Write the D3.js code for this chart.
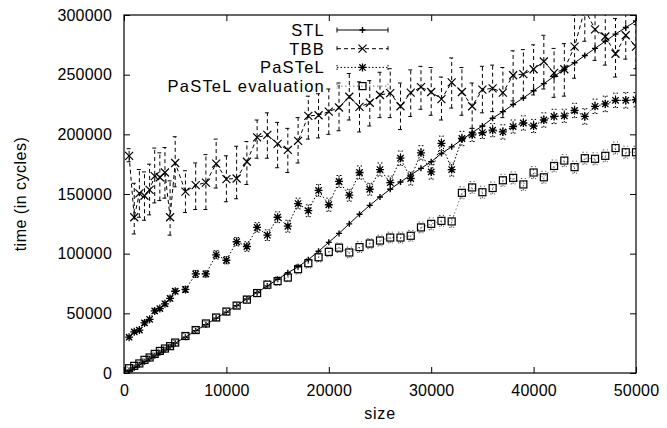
<!DOCTYPE html>
<html>
<head>
<meta charset="utf-8">
<script src="https://cdn.jsdelivr.net/npm/d3@7"></script>
<style>
  body { margin: 0; background: #fff; }
  text { font-family: "Liberation Sans", Arial, Helvetica, sans-serif; fill: #000; }
</style>
</head>
<body>
<svg id="chart" width="667" height="428"></svg>
<script>
// problem sizes (x)
const sizes = [500, 1000, 1500, 2000, 2500, 3000, 3500, 4000, 4500, 5000,
  6000, 7000, 8000, 9000, 10000, 11000, 12000, 13000, 14000, 15000,
  16000, 17000, 18000, 19000, 20000, 21000, 22000, 23000, 24000, 25000,
  26000, 27000, 28000, 29000, 30000, 31000, 32000, 33000, 34000, 35000,
  36000, 37000, 38000, 39000, 40000, 41000, 42000, 43000, 44000, 45000,
  46000, 47000, 48000, 49000, 50000];

const stl = [2000, 4500, 7000, 9500, 12000, 14500, 17000, 19500, 22000, 25000,
  30000, 35500, 40500, 46000, 51000, 56500, 62000, 67500, 73000, 78500,
  84000, 89000, 95000, 102000, 109500, 117000, 125000, 133000, 140500, 147500,
  154000, 160000, 166000, 171500, 177000, 184000, 189500, 195500, 201500, 207000,
  213500, 219000, 225000, 230500, 236500, 242500, 248500, 254500, 260000, 266000,
  272000, 278000, 284000, 289500, 295000];

const tbb = [182000, 130500, 150500, 148500, 153500, 165000, 164000, 168000, 130500, 176000,
  152000, 157500, 159500, 175500, 162500, 163000, 177000, 197500, 199500, 192000,
  187000, 194500, 215500, 216000, 219000, 222500, 231500, 223000, 226500, 233000,
  234500, 223500, 235000, 239500, 235500, 229500, 243500, 235500, 223500, 237500,
  238500, 235000, 249500, 250500, 254500, 261000, 251500, 254500, 273500, 305000,
  288000, 282000, 267500, 283000, 273500];
const tbbLow = [177000, 116500, 130500, 128000, 132500, 142500, 144500, 146500, 115500, 156000,
  134500, 137000, 137000, 155000, 143500, 146000, 158000, 180000, 180000, 172000,
  168000, 176000, 196000, 197000, 200000, 203000, 212000, 202000, 207000, 214000,
  214000, 204000, 215000, 221000, 216000, 212000, 222000, 216000, 205000, 218000,
  219000, 214000, 228000, 230000, 233000, 238000, 231000, 232000, 247000, 278000,
  262000, 258000, 248000, 263000, 255000];
const tbbHigh = [188000, 159000, 170500, 168500, 175000, 188500, 184500, 189000, 161000, 198000,
  169500, 176000, 183000, 196000, 182000, 190000, 194000, 212000, 218000, 210000,
  205000, 214000, 232000, 234000, 238000, 243000, 251000, 244000, 245000, 252000,
  255000, 243000, 254000, 257000, 256000, 248000, 264000, 256000, 243000, 257000,
  258000, 256000, 270000, 271000, 275000, 283000, 272000, 276000, 300000, 330000,
  312000, 305000, 297000, 304000, 292000];

const pastel = [30000, 34500, 36000, 42000, 45000, 52000, 54000, 58000, 62500, 68500,
  70000, 83000, 83000, 99000, 94500, 110000, 106000, 122000, 115500, 130500,
  123000, 142000, 136000, 153000, 141000, 160500, 149000, 168000, 154000, 170500,
  159500, 180000, 163000, 184500, 168500, 192500, 170500, 196500, 199500, 201500,
  203500, 202000, 206500, 209500, 207000, 212000, 215000, 215500, 220000, 215000,
  223500, 225500, 228500, 228500, 229000];
const pastelErr = [1500, 1500, 1500, 2000, 1500, 2000, 1500, 2000, 2000, 2000,
  2500, 3000, 2500, 3500, 3000, 3500, 4000, 4000, 4500, 4500,
  5000, 4500, 5000, 5000, 5500, 5000, 5000, 5500, 5000, 5500,
  5500, 6000, 5500, 6000, 6000, 6000, 5500, 6000, 5500, 5000,
  5500, 6000, 5500, 6000, 5500, 6000, 6000, 5500, 6000, 6500,
  6000, 6500, 6000, 6500, 6000];

const pastelEval = [4000, 6000, 8000, 11000, 13000, 16000, 18500, 20500, 22500, 25500,
  31000, 36000, 41500, 46500, 51500, 56500, 61500, 67000, 74000, 77000,
  80000, 87000, 92000, 97000, 101500, 105000, 101000, 105500, 108500, 111000,
  113500, 113500, 115000, 122000, 125000, 127500, 127000, 151000, 155500, 151500,
  155000, 161500, 163500, 158000, 168000, 164000, 173500, 178000, 172500, 180000,
  179500, 182000, 188500, 185000, 185000];
const evalErr = [1000, 1000, 1000, 1000, 1500, 1500, 1500, 1500, 1500, 2000,
  2000, 2000, 2000, 2500, 2500, 2500, 3000, 3000, 3500, 3500,
  3500, 4000, 4000, 4000, 4000, 4000, 4500, 4500, 4000, 4500,
  4500, 4500, 4500, 4500, 5000, 4500, 5000, 5000, 5000, 5000,
  5000, 5000, 5000, 5000, 5000, 5000, 5000, 5000, 5000, 5000,
  5000, 5000, 5000, 5000, 5000];

const xTicks = [0, 10000, 20000, 30000, 40000, 50000];
const yTicks = [0, 50000, 100000, 150000, 200000, 250000, 300000];
const seriesNames = ["STL", "TBB", "PaSTeL", "PaSTeL evaluation"];

function drawChart(svg_name) {
    // General Variables
    const margin = { top: 15, right: 31, left: 124, bottom: 55 };
    const chart = d3.select(svg_name);
    const chart_width = +chart.attr("width");
    const chart_height = +chart.attr("height");
    const innerWidth = chart_width - margin.left - margin.right;
    const innerHeight = chart_height - margin.top - margin.bottom;

    const x = d3.scaleLinear().domain([0, 50000]).range([0, innerWidth]);
    const y = d3.scaleLinear().domain([0, 300000]).range([innerHeight, 0]);

    const g = chart.append("g")
        .attr("transform", "translate(" + margin.left + "," + margin.top + ")");

    chart.append("defs").append("clipPath").attr("id", "plotclip")
        .append("rect").attr("x", 0).attr("y", 0)
        .attr("width", innerWidth).attr("height", innerHeight);

    // axes with inward mirrored ticks
    const tickLen = 6;
    g.append("g").attr("transform", "translate(0," + innerHeight + ")")
        .call(d3.axisBottom(x).tickValues(xTicks).tickSizeInner(-tickLen).tickSizeOuter(0).tickPadding(12).tickFormat(d3.format("d")))
        .call(a => a.select(".domain").remove());
    g.append("g")
        .call(d3.axisTop(x).tickValues(xTicks).tickSizeInner(-tickLen).tickSizeOuter(0).tickFormat(""))
        .call(a => a.select(".domain").remove());
    g.append("g")
        .call(d3.axisLeft(y).tickValues(yTicks).tickSizeInner(-tickLen).tickSizeOuter(0).tickPadding(12).tickFormat(d3.format("d")))
        .call(a => a.select(".domain").remove());
    g.append("g").attr("transform", "translate(" + innerWidth + ",0)")
        .call(d3.axisRight(y).tickValues(yTicks).tickSizeInner(-tickLen).tickSizeOuter(0).tickFormat(""))
        .call(a => a.select(".domain").remove());

    g.selectAll(".tick line").attr("stroke", "#000");
    g.selectAll(".tick text").style("font-size", "16px").style("letter-spacing", "0.2px");

    g.append("rect")
        .attr("width", innerWidth).attr("height", innerHeight)
        .attr("fill", "none").attr("stroke", "#000").attr("stroke-width", 1.2);

    // axis labels
    g.append("text")
        .attr("x", innerWidth / 2).attr("y", innerHeight + 46)
        .attr("text-anchor", "middle").style("font-size", "16px")
        .style("letter-spacing", "0.8px")
        .text("size");
    g.append("text")
        .attr("transform", "rotate(-90)")
        .attr("x", -innerHeight / 2).attr("y", -98)
        .attr("text-anchor", "middle").style("font-size", "16px")
        .style("letter-spacing", "0.5px")
        .text("time (in cycles)");

    const plot = g.append("g").attr("clip-path", "url(#plotclip)");

    const series = [
        { vals: stl, lo: null, hi: null, dash: null, color: "#000", marker: "plus" },
        { vals: tbb, lo: tbbLow, hi: tbbHigh, dash: "4,3", color: "#000", marker: "cross" },
        { vals: pastel, lo: pastel.map((v, i) => v - pastelErr[i]), hi: pastel.map((v, i) => v + pastelErr[i]), dash: "1.5,2", color: "#000", marker: "star" },
        { vals: pastelEval, lo: pastelEval.map((v, i) => v - evalErr[i]), hi: pastelEval.map((v, i) => v + evalErr[i]), dash: "1.5,2.5", color: "#777", marker: "square" }
    ];

    function drawMarker(sel, type, cx, cy) {
        const s = 4;
        if (type === "plus") {
            sel.append("path").attr("d", `M${cx - 3},${cy}H${cx + 3}M${cx},${cy - 3}V${cy + 3}`)
                .attr("stroke", "#000").attr("stroke-width", 1.4).attr("fill", "none");
        } else if (type === "cross") {
            sel.append("path").attr("d", `M${cx - s},${cy - s}L${cx + s},${cy + s}M${cx - s},${cy + s}L${cx + s},${cy - s}`)
                .attr("stroke", "#000").attr("stroke-width", 1.2).attr("fill", "none");
        } else if (type === "star") {
            sel.append("path").attr("d", `M${cx - s},${cy}H${cx + s}M${cx},${cy - s}V${cy + s}M${cx - 3.2},${cy - 3.2}L${cx + 3.2},${cy + 3.2}M${cx - 3.2},${cy + 3.2}L${cx + 3.2},${cy - 3.2}`)
                .attr("stroke", "#000").attr("stroke-width", 1.3).attr("fill", "none");
        } else {
            sel.append("rect").attr("x", cx - 3.5).attr("y", cy - 3.5).attr("width", 7).attr("height", 7)
                .attr("stroke", "#000").attr("stroke-width", 1.2).attr("fill", "none");
        }
    }

    const cap = 2.5;
    series.forEach(s => {
        // error bars
        if (s.lo) {
            const eb = plot.append("g")
                .attr("stroke", s.color === "#777" ? "#555" : "#000")
                .attr("stroke-width", 1).attr("fill", "none")
                .attr("stroke-dasharray", s.dash);
            sizes.forEach((d, i) => {
                const px = x(d), y0 = y(s.lo[i]), y1 = y(s.hi[i]);
                eb.append("path").attr("d", `M${px},${y0}V${y1}M${px - cap},${y0}H${px + cap}M${px - cap},${y1}H${px + cap}`);
            });
        }
        // connecting line
        const line = d3.line().x((d, i) => x(sizes[i])).y(d => y(d));
        plot.append("path").datum(s.vals)
            .attr("d", line)
            .attr("fill", "none")
            .attr("stroke", s.color)
            .attr("stroke-width", 1)
            .attr("stroke-dasharray", s.dash);
        // markers
        const mg = plot.append("g");
        sizes.forEach((d, i) => drawMarker(mg, s.marker, x(d), y(s.vals[i])));
    });

    // Legend
    const legX = 325 - margin.left, sx0 = 337 - margin.left, sx1 = 388 - margin.left;
    seriesNames.forEach((name, i) => {
        const ly = 30 + i * 18.7 - margin.top;
        const s = series[i];
        g.append("text").attr("x", legX).attr("y", ly).attr("dy", "0.36em")
            .attr("text-anchor", "end").style("font-size", "16.5px").style("letter-spacing", "1.2px")
            .text(name);
        g.append("path")
            .attr("d", `M${sx0},${ly}H${sx1}M${sx0},${ly - 2.5}V${ly + 2.5}M${sx1},${ly - 2.5}V${ly + 2.5}`)
            .attr("stroke", s.color).attr("stroke-width", 1).attr("fill", "none")
            .attr("stroke-dasharray", s.dash);
        drawMarker(g, s.marker, (sx0 + sx1) / 2, ly);
    });
}

drawChart("#chart");
</script>
</body>
</html>
